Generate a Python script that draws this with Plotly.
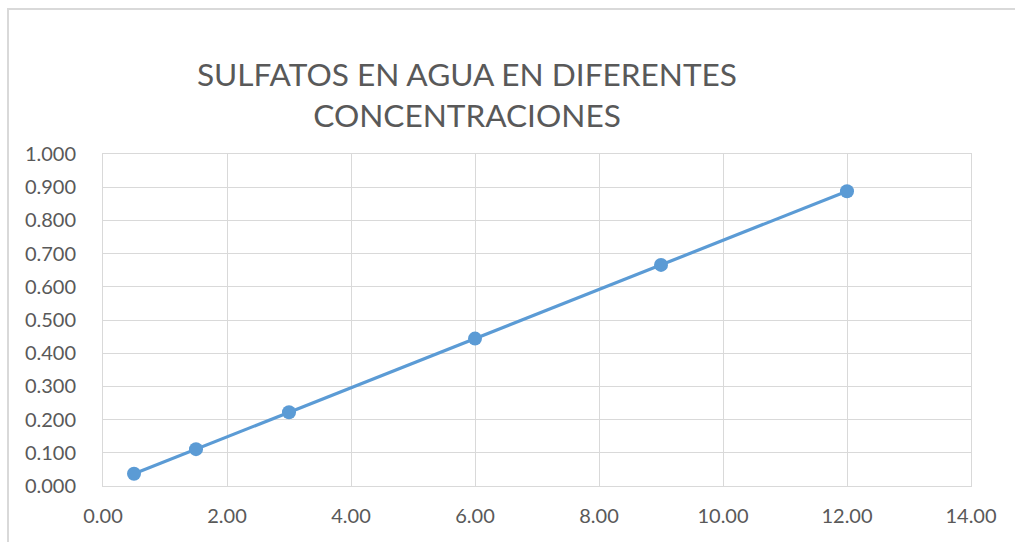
import plotly.graph_objects as go

# Concentración (x) y absorbancia medida (y)
concentracion = [0.5, 1.5, 3.0, 6.0, 9.0, 12.0]
absorbancia = [0.037, 0.111, 0.222, 0.444, 0.666, 0.888]

titulo = "SULFATOS EN AGUA EN DIFERENTES<br>CONCENTRACIONES"

x_ticks = [0, 2, 4, 6, 8, 10, 12, 14]
y_ticks = [0.0, 0.1, 0.2, 0.3, 0.4, 0.5, 0.6, 0.7, 0.8, 0.9, 1.0]

azul = "#5B9BD5"
gris_texto = "#595959"
gris_linea = "#D9D9D9"
fuente = "Lato"

W, H = 1015, 542
ML, MR, MT, MB = 103, 44, 154, 56

fig = go.Figure(
    go.Scatter(
        x=concentracion,
        y=absorbancia,
        mode="lines+markers",
        line=dict(color=azul, width=3.2),
        marker=dict(color=azul, size=14),
        showlegend=False,
    )
)

pw = W - ML - MR
ph = H - MT - MB


def px_to_paper_x(p):
    return (p - ML) / pw


def px_to_paper_y(p):
    return (H - MB - p) / ph


# Marco exterior del gráfico
fig.add_shape(
    type="rect",
    xref="paper", yref="paper",
    x0=px_to_paper_x(8), x1=px_to_paper_x(1030),
    y0=px_to_paper_y(560), y1=px_to_paper_y(9),
    line=dict(color=gris_linea, width=2),
    fillcolor="rgba(0,0,0,0)",
    layer="below",
)

fig.update_layout(
    width=W,
    height=H,
    margin=dict(l=ML, r=MR, t=MT, b=MB),
    paper_bgcolor="white",
    plot_bgcolor="white",
    title=dict(
        text=titulo,
        x=467 / W,
        xanchor="center",
        y=1 - 86 / H,
        yanchor="middle",
        font=dict(family=fuente, size=31.6, color=gris_texto),
    ),
    font=dict(family=fuente, size=20, color=gris_texto),
)

fig.update_xaxes(
    range=[0, 14],
    tickvals=x_ticks,
    ticktext=[f"{v:.2f}" for v in x_ticks],
    showgrid=True,
    gridcolor=gris_linea,
    gridwidth=1,
    showline=True,
    linecolor=gris_linea,
    linewidth=1,
    mirror=True,
    zeroline=False,
    ticks="",
    ticklabelstandoff=12,
    tickfont=dict(family=fuente, size=20, color=gris_texto),
)

fig.update_yaxes(
    range=[0, 1],
    tickvals=y_ticks,
    ticktext=[f"{v:.3f}" for v in y_ticks],
    showgrid=True,
    gridcolor=gris_linea,
    gridwidth=1,
    showline=True,
    linecolor=gris_linea,
    linewidth=1,
    mirror=True,
    zeroline=False,
    ticks="",
    ticklabelstandoff=22,
    tickfont=dict(family=fuente, size=20, color=gris_texto),
)

fig.write_html("out.html")
